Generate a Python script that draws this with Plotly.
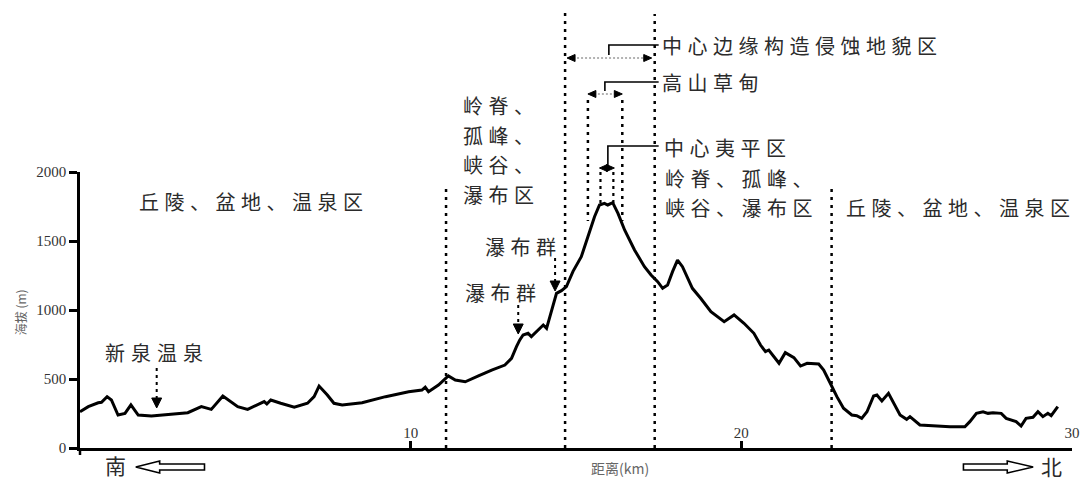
import plotly.graph_objects as go

# ---------------- data ----------------
distance_km = [0.00, 0.25, 0.55, 0.65, 0.82, 0.95, 1.15, 1.36, 1.54, 1.64, 1.76, 2.16, 2.86, 3.26,
               3.67, 3.97, 4.32, 4.52, 4.77, 5.07, 5.37, 5.57, 5.65, 5.77, 6.07, 6.48, 6.88, 7.08,
               7.23, 7.48, 7.68, 7.93, 8.53, 9.24, 9.94, 10.34, 10.44, 10.54, 10.84, 10.99, 11.14,
               11.35, 11.65, 12.05, 12.45, 12.85, 13.05, 13.20, 13.30, 13.40, 13.55, 13.65, 13.86,
               14.01, 14.11, 14.26, 14.41, 14.56, 14.71, 14.91, 15.16, 15.36, 15.56, 15.71, 15.86,
               15.96, 16.11, 16.27, 16.47, 16.77, 17.07, 17.27, 17.47, 17.62, 17.77, 17.92, 18.07,
               18.22, 18.37, 18.52, 18.77, 19.08, 19.48, 19.78, 20.08, 20.38, 20.58, 20.73, 20.83,
               21.14, 21.33, 21.59, 21.79, 21.99, 22.34, 22.49, 22.69, 22.89, 23.09, 23.34, 23.49,
               23.64, 23.80, 24.00, 24.10, 24.25, 24.45, 24.60, 24.80, 25.00, 25.10, 25.40, 25.80,
               26.31, 26.76, 26.91, 27.11, 27.31, 27.46, 27.61, 27.86, 28.01, 28.31, 28.46, 28.61,
               28.82, 28.97, 29.12, 29.27, 29.37, 29.57]
elevation_m = [263, 300, 328, 331, 372, 348, 239, 251, 312, 275, 239, 232, 246, 256,
               300, 280, 377, 343, 300, 280, 312, 336, 319, 348, 324, 295, 324, 372,
               449, 384, 324, 312, 328, 372, 408, 420, 440, 408, 456, 488, 522,
               493, 480, 522, 565, 601, 650, 734, 783, 819, 831, 807, 855,
               891, 867, 1000, 1121, 1140, 1169, 1280, 1386, 1531, 1676, 1761, 1773,
               1761, 1778, 1700, 1580, 1435, 1314, 1254, 1205, 1157, 1181, 1278, 1362,
               1314, 1241, 1157, 1085, 988, 915, 964, 904, 831, 746, 698, 710,
               614, 691, 655, 594, 614, 609, 565, 469, 372, 288, 239, 234,
               215, 263, 377, 384, 341, 396, 324, 239, 208, 227, 167, 159,
               154, 154, 191, 251, 263, 251, 256, 251, 215, 191, 159, 215,
               222, 263, 227, 251, 234, 300]

x_ticks = [10, 20, 30]
y_ticks = [0, 500, 1000, 1500, 2000]

zone_bounds_km = [11.07, 14.67, 17.38, 22.73]
meadow_km = [15.36, 16.40]
plateau_km = [15.74, 16.13]

# ---------------- layout helpers ----------------
L, T, W, H = 80, 172, 996, 276
FIG_W, FIG_H = 1092, 481


def px(xp):
    return (xp - L) / W


def py(yp):
    return (T + H - yp) / H


def xpix(xk):
    return L + xk / 30.0 * W


CJK = "Noto Sans CJK SC"
SERIF = "Liberation Serif"
TXT = "#2b2b2b"

fig = go.Figure()
fig.add_trace(go.Scatter(x=distance_km, y=elevation_m, mode="lines",
                         line=dict(color="black", width=3), hoverinfo="skip",
                         showlegend=False))

shapes = []
annotations = []


def dotted(x0, y0, x1, y1, width=2.5, color="black", dash="3px,5px"):
    shapes.append(dict(type="line", xref="paper", yref="paper",
                       x0=px(x0), y0=py(y0), x1=px(x1), y1=py(y1),
                       line=dict(color=color, width=width, dash=dash), layer="above"))


def solid_path(points, width=1.6, color="black", close=False, fill=None):
    d = "M " + " L ".join(f"{px(a):.5f},{py(b):.5f}" for a, b in points)
    if close:
        d += " Z"
    s = dict(type="path", xref="paper", yref="paper", path=d,
             line=dict(color=color, width=width), layer="above")
    if fill:
        s["fillcolor"] = fill
    shapes.append(s)


def tri(points):
    solid_path(points, width=1, close=True, fill="black")


def label(text, x, y, size=20, anchor="left", spacing=5.5, color=TXT, line_gap=29.5):
    lines = text.split("\n")
    n = len(lines)
    for i, t in enumerate(lines):
        yy = y + (i - (n - 1) / 2.0) * line_gap
        annotations.append(dict(
            text=f'<span style="letter-spacing:{spacing}px">{t}</span>', align="left",
            x=px(x), y=py(yy), xref="paper", yref="paper", xanchor=anchor, yanchor="middle",
            showarrow=False, borderpad=0, font=dict(family=CJK, size=size, color=color)))


# zone boundaries (vertical dotted lines)
bound_tops = [187, 12, 14, 188]
for xk, top in zip(zone_bounds_km, bound_tops):
    xp = xpix(xk)
    dotted(xp, 448, xp, top)

# meadow lines
for xk in meadow_km:
    xp = xpix(xk)
    dotted(xp, 100, xp, 221)
# plateau lines
for xk in plateau_km:
    xp = xpix(xk)
    dotted(xp, 172, xp, 203, width=2.2, dash="3px,4px")


def double_arrow(x0, x1, y):
    dotted(x0 + 6, y, x1 - 6, y, width=1.3, color="#9a9a9a", dash="2px,2px")
    tri([(x0, y), (x0 + 8, y - 3.5), (x0 + 8, y + 3.5)])
    tri([(x1, y), (x1 - 8, y - 3.5), (x1 - 8, y + 3.5)])


double_arrow(xpix(zone_bounds_km[1]) + 2, xpix(zone_bounds_km[2]) - 3, 58)
double_arrow(xpix(meadow_km[0]), xpix(meadow_km[1]), 94)
double_arrow(xpix(plateau_km[0]) - 1, xpix(plateau_km[1]) + 1, 168)

# brackets
solid_path([(611, 55), (611, 45), (661, 45)])
solid_path([(607, 91), (607, 82), (661, 82)])
solid_path([(610, 166), (610, 146), (661, 146)])

label("中心边缘构造侵蚀地貌区", 663, 46)
label("高山草甸", 663, 83)
label("中心夷平区", 665, 147)

# left zone texts
label("丘陵、盆地、温泉区", 138, 201)
label("岭脊、\n孤峰、\n峡谷、\n瀑布区", 464, 150)
label("瀑布群", 486, 246)
label("瀑布群", 466, 292)
label("新泉温泉", 104, 352, spacing=6)

# right zone texts
label("岭脊、孤峰、\n峡谷、瀑布区", 666, 193)
label("丘陵、盆地、温泉区", 848, 207)


def down_arrow(x, y0, y1):
    dotted(x, y0, x, y1 - 8, width=2, dash="3px,4px")
    tri([(x, y1), (x - 5, y1 - 10), (x + 5, y1 - 10)])


down_arrow(557, 258, 291)
down_arrow(520, 305, 334)
down_arrow(157, 368, 408)

# y axis stub below the x axis
solid_path([(80, 448), (80, 455)], width=2.5)

# south / north hollow arrows
solid_path([(136, 467), (160, 461), (160, 464), (205, 464), (205, 470), (160, 470), (160, 473)],
           width=1.6, close=True, fill="white")
solid_path([(1037, 467), (1011, 461), (1011, 464), (967, 464), (967, 470), (1011, 470), (1011, 473)],
           width=1.6, close=True, fill="white")
label("南", 104, 465, size=21, spacing=0)
label("北", 1044, 466, size=21, spacing=0)

# axis titles
annotations.append(dict(text="海拔 (m)", x=px(20), y=py(312), xref="paper", yref="paper",
                        xanchor="center", yanchor="middle", textangle=-90, showarrow=False,
                        font=dict(family=CJK, size=12, color="#666666")))
annotations.append(dict(text="距离(km)", x=px(622), y=py(468), xref="paper", yref="paper",
                        xanchor="center", yanchor="middle", showarrow=False,
                        font=dict(family=CJK, size=14, color="#666666")))

fig.update_layout(
    width=FIG_W, height=FIG_H,
    margin=dict(l=L, r=FIG_W - L - W, t=T, b=FIG_H - T - H, pad=0),
    paper_bgcolor="white", plot_bgcolor="white",
    shapes=shapes, annotations=annotations, showlegend=False,
    xaxis=dict(range=[0, 30], tickvals=x_ticks, ticktext=[str(v) for v in x_ticks],
               ticks="inside", ticklen=7, tickwidth=2.5, tickcolor="black",
               ticklabelposition="inside", ticklabeloverflow="allow",
               showline=True, linecolor="black", linewidth=2.5,
               showgrid=False, zeroline=False,
               tickfont=dict(family=SERIF, size=15, color="#333333")),
    yaxis=dict(range=[0, 2000], tickvals=y_ticks, ticktext=[str(v) for v in y_ticks],
               ticks="outside", ticklen=8, tickwidth=2.5, tickcolor="black",
               showline=True, linecolor="black", linewidth=2.5,
               showgrid=False, zeroline=False,
               tickfont=dict(family=SERIF, size=15, color="#333333")),
)

fig.write_html("out.html", config={"displayModeBar": False},
               post_script="document.body.style.margin='0';")
